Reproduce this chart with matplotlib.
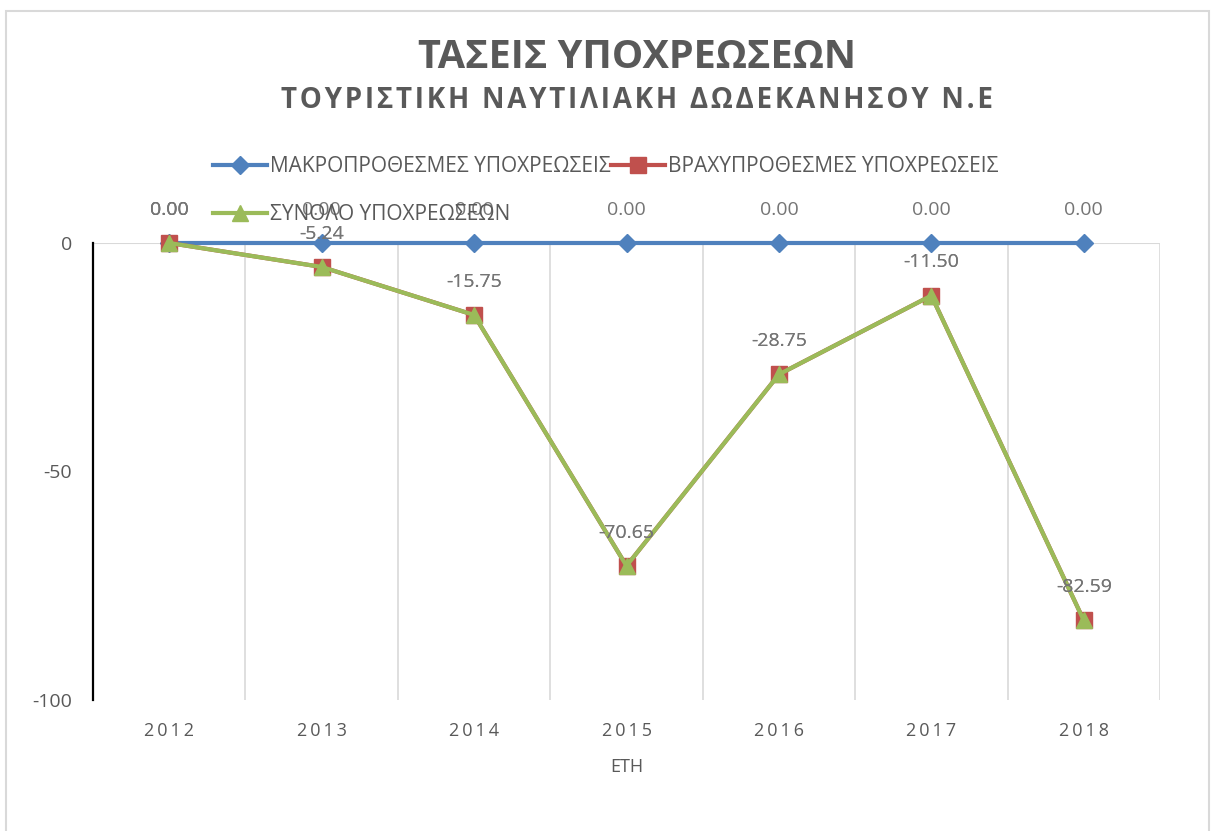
import matplotlib
matplotlib.use("Agg")
import matplotlib.pyplot as plt
from matplotlib.patches import Rectangle

years = ["2012", "2013", "2014", "2015", "2016", "2017", "2018"]
long_term = [0.00, 0.00, 0.00, 0.00, 0.00, 0.00, 0.00]
short_term = [0.00, -5.24, -15.75, -70.65, -28.75, -11.50, -82.59]
total = [0.00, -5.24, -15.75, -70.65, -28.75, -11.50, -82.59]
series_names = ["ΜΑΚΡΟΠΡΟΘΕΣΜΕΣ ΥΠΟΧΡΕΩΣΕΙΣ", "ΒΡΑΧΥΠΡΟΘΕΣΜΕΣ ΥΠΟΧΡΕΩΣΕΙΣ", "ΣΥΝΟΛΟ ΥΠΟΧΡΕΩΣΕΩΝ"]
yticks = [0, -50, -100]
title = "ΤΑΣΕΙΣ ΥΠΟΧΡΕΩΣΕΩΝ"
subtitle = "ΤΟΥΡΙΣΤΙΚΗ ΝΑΥΤΙΛΙΑΚΗ ΔΩΔΕΚΑΝΗΣΟΥ Ν.Ε"
xlabel = "ΕΤΗ"

plt.rcParams['font.family'] = ['Open Sans', 'DejaVu Sans']

W, H = 1216, 831
fig = plt.figure(figsize=(W / 100, H / 100), dpi=100)
fig.patch.set_facecolor('white')

# chart border
fig.add_artist(Rectangle((6 / W, -0.05), (1209 - 6) / W, (H - 11) / H + 0.05,
                         transform=fig.transFigure, fill=False,
                         edgecolor='#D9D9D9', linewidth=1.5))

left, right, top, bottom = 93, 1160, 243, 700
ax = fig.add_axes([left / W, 1 - bottom / H, (right - left) / W, (bottom - top) / H])

x = list(range(len(years)))
blue, red, green = '#4F81BD', '#C0504D', '#9BBB59'

# gridlines
for b in [i + 0.5 for i in range(len(years))]:
    ax.axvline(b, color='#D9D9D9', linewidth=1.2, zorder=0)
ax.axhline(0, color='#D9D9D9', linewidth=1.5, zorder=0)

l1, = ax.plot(x, long_term, color=blue, linewidth=3, marker='D', markersize=9,
              zorder=3, clip_on=False, label=series_names[0])
l2, = ax.plot(x, short_term, color=red, linewidth=3, marker='s', markersize=11,
              zorder=4, clip_on=False, label=series_names[1])
l3, = ax.plot(x, total, color=green, linewidth=3, marker='^', markersize=12,
              zorder=5, clip_on=False, label=series_names[2])

lab_color = '#757575'
for series in (long_term, short_term, total):
    for xi, v in zip(x, series):
        ax.annotate(f"{v:.2f}", (xi, v), xytext=(0, 24), textcoords='offset points',
                    ha='center', va='center', fontsize=14, color=lab_color,
                    zorder=6, annotation_clip=False)

ax.set_xlim(-0.5, len(years) - 0.5)
ax.set_ylim(-100, 0)
ax.set_yticks(yticks)
ax.set_yticklabels([str(t) for t in yticks])
ax.set_xticks(x)
ax.set_xticklabels(["\u2009".join(y) for y in years])
ax.tick_params(axis='y', length=0, pad=15, labelsize=14, labelcolor='#595959')
ax.tick_params(axis='x', length=0, pad=16, labelsize=13, labelcolor='#595959')
for s in ['top', 'right', 'bottom']:
    ax.spines[s].set_visible(False)
ax.spines['left'].set_color('black')
ax.spines['left'].set_linewidth(1.6)
ax.set_xlabel(xlabel, fontsize=13, color='#595959', labelpad=13)

# titles
fig.text(637 / W, 1 - 58 / H, title, ha='center', va='center',
         fontsize=28.5, fontweight='bold', color='#595959')
fig.text(637 / W, 1 - 101 / H, "\u200a".join(subtitle), ha='center', va='center',
         fontsize=20, fontweight='bold', color='#595959')

# legend (row-wise order: blue, red / green)
leg = fig.legend(handles=[l1, l3, l2], labels=[series_names[0], series_names[2], series_names[1]],
                 ncol=2, frameon=False, loc='upper left',
                 bbox_to_anchor=(213 / W, 1 - 156 / H), fontsize=15,
                 handlelength=2.6, handletextpad=0.15, columnspacing=0.0,
                 labelspacing=1.3, labelcolor='#595959', borderpad=0, borderaxespad=0)

fig.savefig("out.png", dpi=100)
